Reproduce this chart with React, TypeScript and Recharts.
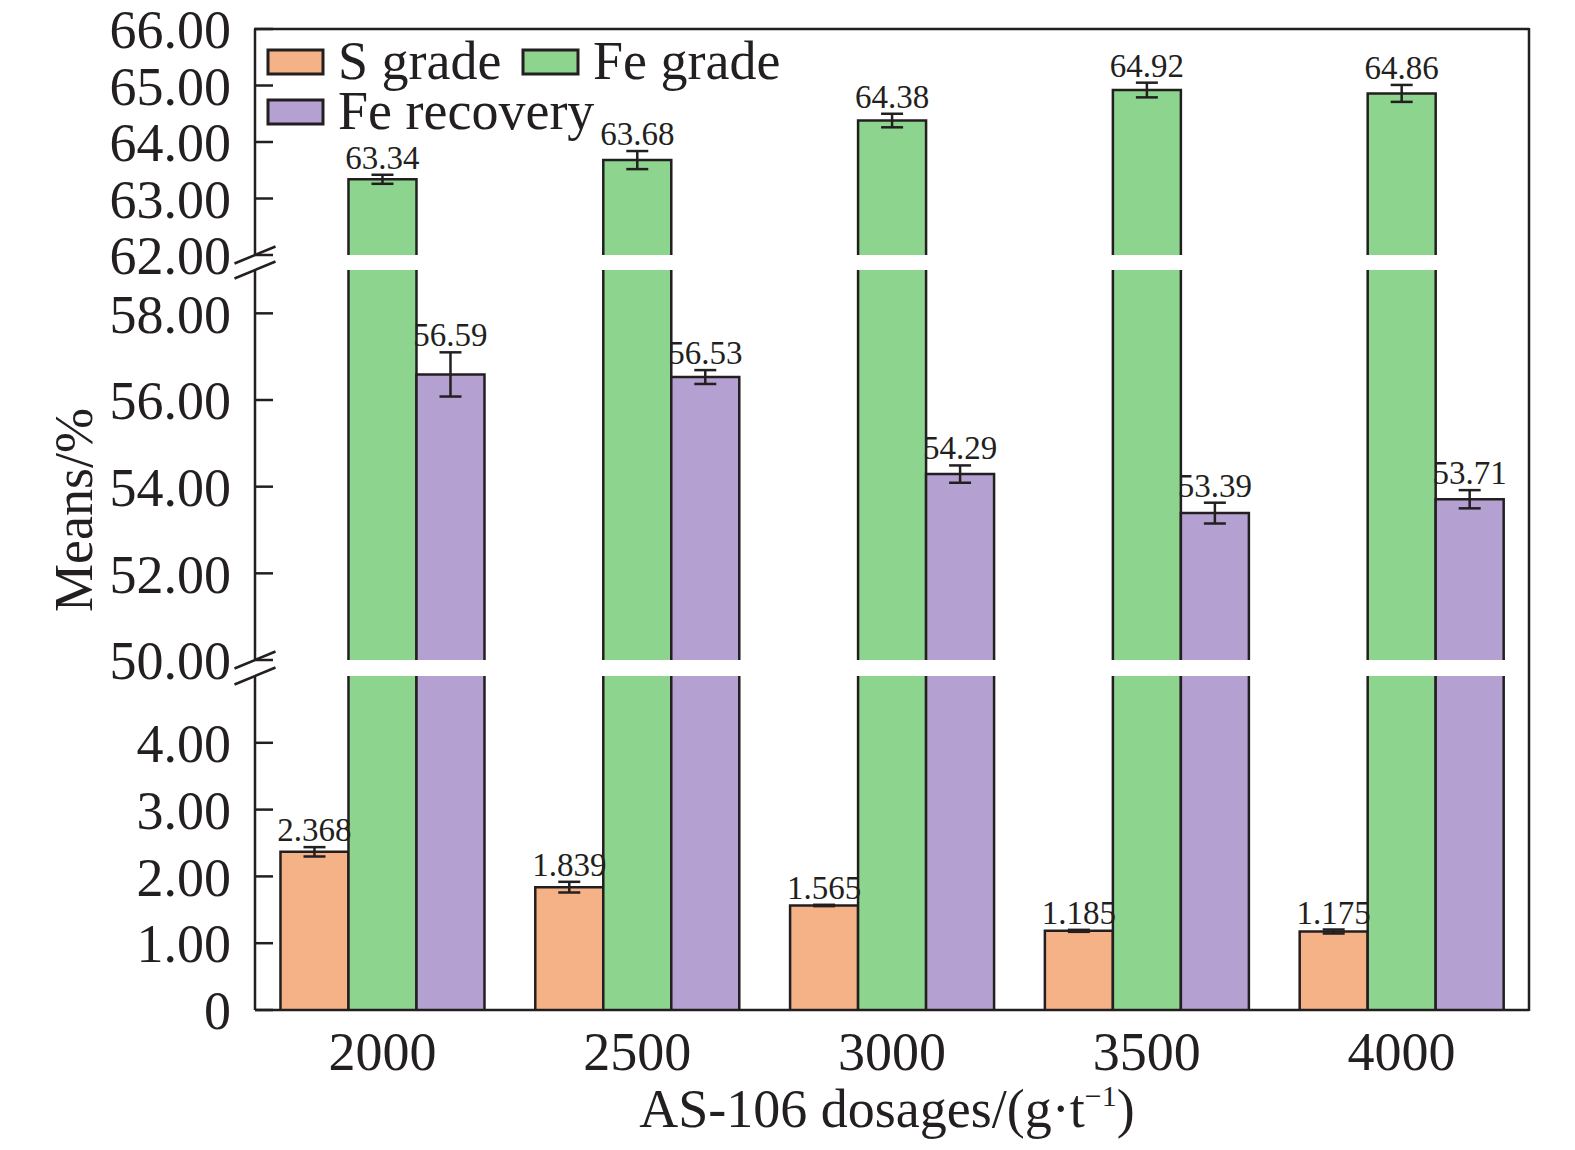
import React from "react";
import { BarChart, Bar, XAxis, YAxis, ErrorBar, LabelList } from "recharts";

const doses = ["2000", "2500", "3000", "3500", "4000"];
const sGrade = [2.368, 1.839, 1.565, 1.185, 1.175];
const sGradeErr = [0.07, 0.08, 0.01, 0.015, 0.03];
const feGrade = [63.34, 63.68, 64.38, 64.92, 64.86];
const feGradeErr = [0.08, 0.16, 0.12, 0.13, 0.15];
const feRecovery = [56.59, 56.53, 54.29, 53.39, 53.71];
const feRecoveryErr = [0.51, 0.16, 0.2, 0.24, 0.21];

const topTicks = [62, 63, 64, 65, 66];
const midTicks = [50, 52, 54, 56, 58];
const lowTicks = [0, 1, 2, 3, 4];

const INK = "#231f20";
const FONT = '"Liberation Serif", "Times New Roman", serif';
const ORANGE = "#f5b286";
const GREEN = "#8dd48e";
const PURPLE = "#b4a1d1";

const rows = doses.map((d, i) => ({
  dose: d,
  s: sGrade[i],
  sErr: sGradeErr[i],
  fe: feGrade[i],
  feErr: feGradeErr[i],
  rec: feRecovery[i],
  recErr: feRecoveryErr[i],
}));

type Seg = { domain: [number, number]; ticks: number[]; plotTop: number; plotH: number };

const segTop: Seg = { domain: [62, 66], ticks: topTicks, plotTop: 29, plotH: 226 };
const segMid: Seg = { domain: [50, 59], ticks: midTicks, plotTop: 270, plotH: 390 };
const segLow: Seg = { domain: [0, 5], ticks: lowTicks, plotTop: 676, plotH: 334 };

// bars are open at the bottom so the cut edges at the axis breaks stay clean
function BarShape(props: any) {
  const { x, y, width, height, fill, payload, k, segMin } = props;
  if (x == null || y == null || !height) return null;
  if (payload && k && payload[k] < segMin) return null;
  const top = Math.min(y, y + height);
  const bot = Math.max(y, y + height);
  return (
    <g>
      <rect x={x} y={top} width={width} height={bot - top} fill={fill} />
      <path
        d={`M${x},${bot}L${x},${top}L${x + width},${top}L${x + width},${bot}`}
        fill="none"
        stroke={INK}
        strokeWidth={2.5}
      />
    </g>
  );
}

const makeLabel = (vals: number[], errs: number[], digits: number, seg: Seg) => (props: any) => {
  const vb = props.viewBox || {};
  const x = props.x ?? vb.x;
  const y = props.y ?? vb.y;
  const w = props.width ?? vb.width;
  const value = Number(props.value);
  if (x == null || isNaN(value)) return null;
  if (value < seg.domain[0] || value > seg.domain[1]) return null;
  let idx = props.index;
  if (idx == null) idx = vals.indexOf(value);
  const ppu = seg.plotH / (seg.domain[1] - seg.domain[0]);
  const errPx = (errs[idx] ?? 0) * ppu;
  return (
    <text
      x={x + w / 2}
      y={y - errPx - 6}
      textAnchor="middle"
      fontFamily={FONT}
      fontSize={33}
      fill={INK}
    >
      {value.toFixed(digits)}
    </text>
  );
};

function YTick(props: any) {
  const { x, y, payload } = props;
  const v = payload.value;
  const txt = v === 0 ? "0" : Number(v).toFixed(2);
  return (
    <g>
      <line x1={x} x2={x + 18} y1={y} y2={y} stroke={INK} strokeWidth={2.5} />
      <text x={x - 24} y={y} dy="0.355em" textAnchor="end" fontFamily={FONT} fontSize={54} fill={INK}>
        {txt}
      </text>
    </g>
  );
}

function XTick(props: any) {
  const { x, y, payload } = props;
  return (
    <text x={x} y={y + 60} textAnchor="middle" fontFamily={FONT} fontSize={54} fill={INK}>
      {payload.value}
    </text>
  );
}

function Segment({ seg, showX }: { seg: Seg; showX?: boolean }) {
  const mt = seg.plotTop === 29 ? 29 : 20;
  const mb = showX ? 0 : 30;
  const xh = showX ? 140 : 0;
  const h = mt + seg.plotH + mb + xh;
  const min = seg.domain[0];
  return (
    <div style={{ position: "absolute", left: 0, top: seg.plotTop - mt }}>
      <BarChart
        width={1549}
        height={h}
        data={rows}
        margin={{ top: mt, right: 20, bottom: mb, left: 0 }}
        barCategoryGap="10%"
        barGap={0}
      >
        <XAxis
          dataKey="dose"
          hide={!showX}
          height={xh}
          interval={0}
          tickLine={false}
          tickSize={0}
          tickMargin={0}
          axisLine={{ stroke: INK, strokeWidth: 2.5 }}
          tick={<XTick />}
        />
        <YAxis
          type="number"
          width={255}
          domain={seg.domain}
          ticks={seg.ticks}
          allowDataOverflow
          interval={0}
          tickLine={false}
          tickSize={0}
          tickMargin={0}
          axisLine={{ stroke: INK, strokeWidth: 2.5 }}
          tick={<YTick />}
        />
        <Bar dataKey="s" fill={ORANGE} shape={<BarShape k="s" segMin={min} />} isAnimationActive={false}>
          <ErrorBar dataKey="sErr" width={11} stroke={INK} strokeWidth={2.5} />
          <LabelList dataKey="s" content={makeLabel(sGrade, sGradeErr, 3, seg)} />
        </Bar>
        <Bar dataKey="fe" fill={GREEN} shape={<BarShape k="fe" segMin={min} />} isAnimationActive={false}>
          <ErrorBar dataKey="feErr" width={11} stroke={INK} strokeWidth={2.5} />
          <LabelList dataKey="fe" content={makeLabel(feGrade, feGradeErr, 2, seg)} />
        </Bar>
        <Bar dataKey="rec" fill={PURPLE} shape={<BarShape k="rec" segMin={min} />} isAnimationActive={false}>
          <ErrorBar dataKey="recErr" width={11} stroke={INK} strokeWidth={2.5} />
          <LabelList dataKey="rec" content={makeLabel(feRecovery, feRecoveryErr, 2, seg)} />
        </Bar>
      </BarChart>
    </div>
  );
}

function Overlay() {
  const slash = (cy: number) => (
    <line x1={234.5} y1={cy + 8.5} x2={275.5} y2={cy - 8.5} stroke={INK} strokeWidth={2.5} />
  );
  const legendItems = [
    { label: "S grade", color: ORANGE, x: 268, y: 50 },
    { label: "Fe grade", color: GREEN, x: 523, y: 50 },
    { label: "Fe recovery", color: PURPLE, x: 268, y: 100 },
  ];
  return (
    <svg
      width={1575}
      height={1150}
      style={{ position: "absolute", left: 0, top: 0, pointerEvents: "none" }}
    >
      <line x1={254} y1={29} x2={1529} y2={29} stroke={INK} strokeWidth={2.5} />
      <line x1={1529} y1={28} x2={1529} y2={1011} stroke={INK} strokeWidth={2.5} />
      {slash(255)}
      {slash(270)}
      {slash(660)}
      {slash(676)}
      {legendItems.map((it) => (
        <g key={it.label}>
          <rect x={it.x} y={it.y} width={55} height={24} fill={it.color} stroke={INK} strokeWidth={3} />
          <text x={it.x + 70} y={it.y + 29} fontFamily={FONT} fontSize={54} fill={INK}>
            {it.label}
          </text>
        </g>
      ))}
      <text
        x={92}
        y={510}
        transform="rotate(-90, 92, 510)"
        textAnchor="middle"
        fontFamily={FONT}
        fontSize={54}
        fill={INK}
      >
        Means/%
      </text>
      <text x={887} y={1127} textAnchor="middle" fontFamily={FONT} fontSize={54} fill={INK}>
        AS-106 dosages/(g·t
        <tspan fontSize={30} dy={-21}>
          −1
        </tspan>
        <tspan dy={21}>)</tspan>
      </text>
    </svg>
  );
}

export default function App() {
  return (
    <div style={{ position: "absolute", left: 0, top: 0, width: 1575, height: 1150, background: "#fff" }}>
      <Segment seg={segTop} />
      <Segment seg={segMid} />
      <Segment seg={segLow} showX />
      <Overlay />
    </div>
  );
}
